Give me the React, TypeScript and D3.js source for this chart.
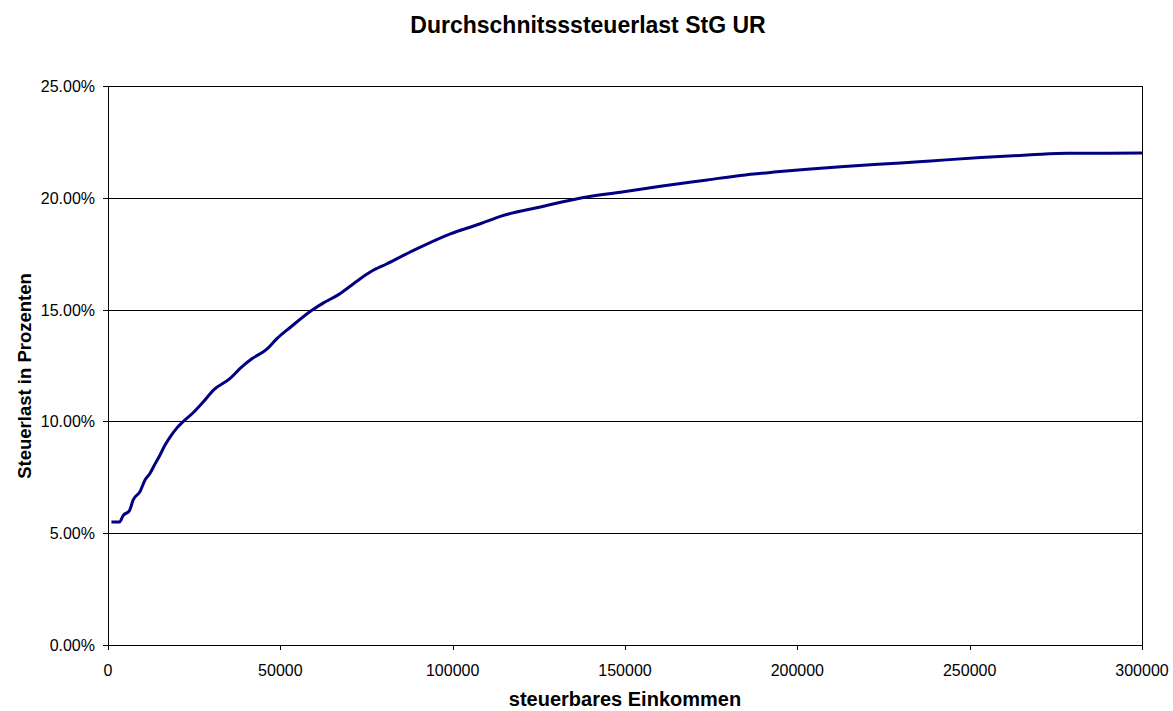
import React from "react";
import * as d3 from "d3";

const title = "Durchschnitsssteuerlast StG UR";
const xLabel = "steuerbares Einkommen";
const yLabel = "Steuerlast in Prozenten";

const income = [1000, 3300, 4440, 6190, 7350, 9290, 10745, 12200, 13650, 15100, 16550, 18000, 19950, 21870, 24770, 27680, 30580, 35430, 38330, 41730, 46090, 48990, 52850, 59160, 62530, 66880, 71240, 76090, 80940, 88670, 99320, 108040, 113850, 125460, 137570, 148690, 160310, 173870, 183550, 193220, 202910, 212590, 222260, 230010, 238720, 253250, 267770, 278430, 300000];
const ratePct = [5.5, 5.5, 5.8, 6.0, 6.5, 6.86, 7.38, 7.68, 8.1, 8.5, 8.94, 9.3, 9.7, 10.0, 10.4, 10.88, 11.4, 11.92, 12.37, 12.8, 13.23, 13.7, 14.2, 14.97, 15.3, 15.67, 16.16, 16.68, 17.05, 17.65, 18.39, 18.84, 19.17, 19.59, 20.0, 20.25, 20.52, 20.8, 21.0, 21.15, 21.28, 21.39, 21.49, 21.56, 21.65, 21.8, 21.92, 21.99, 22.0];

const xTicks = [0, 50000, 100000, 150000, 200000, 250000, 300000];
const yTicks = [0, 0.05, 0.1, 0.15, 0.2, 0.25];

const W = 1173, H = 711;
const L = 108, R = 1142, T = 86, B = 645;
const font = "'Liberation Sans', Arial, sans-serif";

export default function App() {
  const x = d3.scaleLinear().domain([0, 300000]).range([L, R]);
  const y = d3.scaleLinear().domain([0, 0.25]).range([B, T]);
  const pts = income.map((v, i) => [v, ratePct[i] / 100] as [number, number]);
  const line = d3.line<[number, number]>().x(d => x(d[0])).y(d => y(d[1])).curve(d3.curveMonotoneX)(pts) || "";
  const fmtY = d3.format(".2%");

  return (
    <svg width={W} height={H} style={{ position: "absolute", left: 0, top: 0, background: "#fff" }} fontFamily={font}>
      <rect x={0} y={0} width={W} height={H} fill="#fff" />
      <text x={588} y={33} textAnchor="middle" fontWeight="bold" fontSize={23}>{title}</text>
      {yTicks.map(t => (
        <g key={t}>
          <line x1={L - 5} x2={R} y1={Math.round(y(t)) + 0.5} y2={Math.round(y(t)) + 0.5} stroke="#000" strokeWidth={1} />
          <text x={95} y={y(t) + 6} textAnchor="end" fontSize={16}>{fmtY(t)}</text>
        </g>
      ))}
      {xTicks.map(t => (
        <g key={t}>
          <line x1={Math.round(x(t)) + 0.5} x2={Math.round(x(t)) + 0.5} y1={B} y2={B + 5} stroke="#000" strokeWidth={1} />
          <text x={x(t)} y={676} textAnchor="middle" fontSize={16}>{t}</text>
        </g>
      ))}
      <line x1={L + 0.5} x2={L + 0.5} y1={T} y2={B + 1} stroke="#000" strokeWidth={1} />
      <line x1={R + 0.5} x2={R + 0.5} y1={T} y2={B + 1} stroke="#000" strokeWidth={1} />
      <path d={line} fill="none" stroke="#000080" strokeWidth={3} strokeLinejoin="round" />
      <text x={625} y={706} textAnchor="middle" fontWeight="bold" fontSize={20}>{xLabel}</text>
      <text transform={`translate(31,376) rotate(-90)`} textAnchor="middle" fontWeight="bold" fontSize={18.5}>{yLabel}</text>
    </svg>
  );
}
